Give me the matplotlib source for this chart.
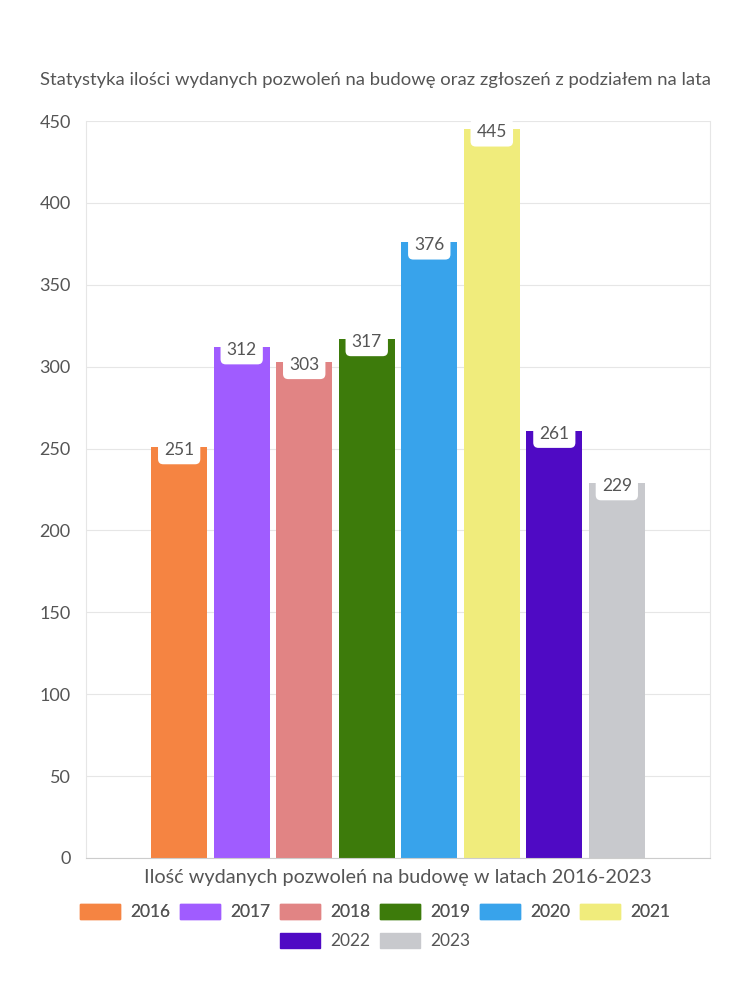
import matplotlib.pyplot as plt
from matplotlib.patches import Patch

# data
years = ['2016', '2017', '2018', '2019', '2020', '2021', '2022', '2023']
values = [251, 312, 303, 317, 376, 445, 261, 229]
colors = ['#f58442', '#a05cff', '#e18484', '#3d7b0b', '#38a3eb',
          '#f0ec7c', '#4f0ac4', '#c8c9cd']

title = 'Statystyka ilości wydanych pozwoleń na budowę oraz zgłoszeń z podziałem na lata'
xlabel = 'Ilość wydanych pozwoleń na budowę w latach 2016-2023'

plt.rcParams['font.family'] = ['Lato', 'DejaVu Sans']
txt = '#555555'

fig = plt.figure(figsize=(7.5, 10), dpi=100)
ax = fig.add_axes([86/750, 142/1000, 624/750, 737/1000])

n = len(years)
for i, (y, v, c) in enumerate(zip(years, values, colors)):
    x = i - (n - 1) / 2
    ax.bar(x, v, width=0.9, color=c, zorder=2)
    ax.text(x, v - 2, str(v), ha='center', va='center', fontsize=12.5,
            color=txt, zorder=3,
            bbox=dict(boxstyle='round,pad=0.35,rounding_size=0.3',
                      fc='white', ec='none'))

ax.set_xlim(-4.99, 4.99)
ax.set_ylim(0, 450)
ax.set_yticks(range(0, 451, 50))
ax.set_xticks([])
ax.grid(axis='y', color='#e6e6e6', lw=0.8, zorder=0)
ax.tick_params(axis='y', length=0, labelsize=13, labelcolor=txt, pad=11)
for s in ['left', 'right', 'top']:
    ax.spines[s].set_color('#e6e6e6')
ax.spines['top'].set_visible(False)
ax.spines['bottom'].set_color('#cccccc')

ax.set_xlabel(xlabel, fontsize=14.3, color=txt, labelpad=8)
fig.text(0.5, 0.92, title, ha='center', va='center', fontsize=13.3, color=txt)

handles = [Patch(color=c, label=y) for y, c in zip(years, colors)]
legkw = dict(loc='center', frameon=False, fontsize=12.5, handlelength=2.3,
             handleheight=0.95, columnspacing=0.55, handletextpad=0.6,
             labelcolor=txt, borderpad=0)
leg1 = fig.legend(handles=handles[:6], ncol=6, bbox_to_anchor=(0.5, 0.088), **legkw)
fig.add_artist(leg1)
fig.legend(handles=handles[6:], ncol=2, bbox_to_anchor=(0.5, 0.059), **legkw)

fig.savefig('out.png')
